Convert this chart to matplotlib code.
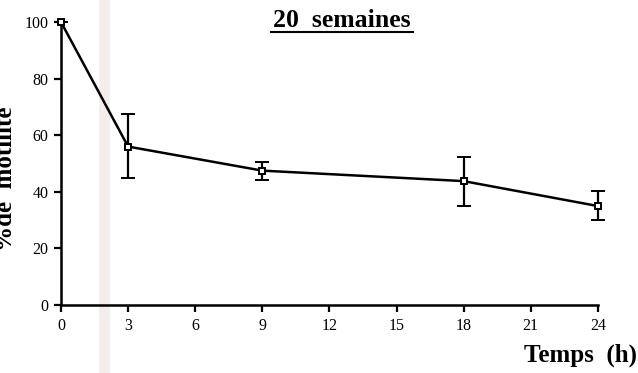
import matplotlib
matplotlib.use("Agg")
import matplotlib.pyplot as plt
from matplotlib.patches import Rectangle

# Motility over time (20 weeks)
hours = [0, 3, 9, 18, 24]
motility = [100, 56, 47.5, 43.8, 35]
err_low = [0, 11.2, 3.3, 8.7, 5.0]
err_high = [0, 11.6, 3.0, 8.6, 5.3]
xticks = [0, 3, 6, 9, 12, 15, 18, 21, 24]
yticks = [0, 20, 40, 60, 80, 100]

plt.rcParams['font.family'] = ['Liberation Serif', 'DejaVu Serif']

fig = plt.figure(figsize=(6.38, 3.73), dpi=100)
fig.patch.set_facecolor('white')

# faint vertical stripe across the sheet
fig.patches.append(Rectangle((0.155, 0.0), 0.018, 1.0, transform=fig.transFigure,
                             facecolor='#f3eeec', edgecolor='none', zorder=-5))

ax = fig.add_axes([0.0956, 0.182, 0.8414, 0.759])
ax.patch.set_alpha(0)

ax.errorbar(hours, motility, yerr=[err_low, err_high], color='black', lw=1.8,
            elinewidth=1.6, capsize=5, capthick=1.6, marker='s', markersize=5,
            markerfacecolor='white', markeredgecolor='black', markeredgewidth=1.4,
            zorder=3, clip_on=False)

ax.set_xlim(0, 24)
ax.set_ylim(0, 100)
ax.set_xticks(xticks)
ax.set_yticks(yticks)
ax.spines['top'].set_visible(False)
ax.spines['right'].set_visible(False)
for s in ('left', 'bottom'):
    ax.spines[s].set_linewidth(1.8)
ax.tick_params(direction='out', length=5, width=1.6, labelsize=11.5, pad=4)

fig.text(0.536, 0.945, '20  semaines', fontsize=18.5, fontweight='bold',
         ha='center', va='center')
fig.add_artist(plt.Line2D([0.425, 0.648], [0.915, 0.915], color='black', lw=1.5,
                          transform=fig.transFigure))

fig.text(0.998, 0.048, 'Temps  (h)', fontsize=18, fontweight='bold',
         ha='right', va='center')

fig.text(0.026, 0.52, '%de  motilité', fontsize=18, fontweight='bold',
         rotation=90, ha='right', va='center')

fig.savefig('out.png', dpi=100, facecolor='white')
